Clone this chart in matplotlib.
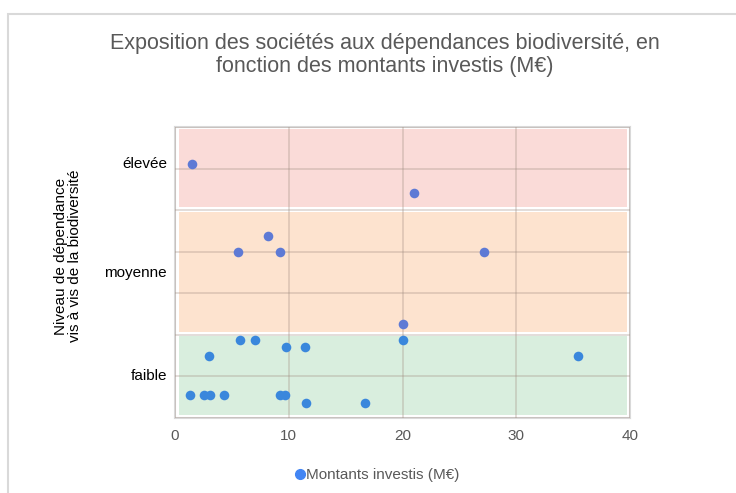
import matplotlib
matplotlib.use("Agg")
import matplotlib.pyplot as plt
from matplotlib.patches import Rectangle

plt.rcParams['font.family'] = ['Liberation Sans', 'DejaVu Sans']

# montants investis (M EUR) et niveau de dependance (echelle 0..3.5)
x_high = [1.5, 21.0]
y_high = [3.05, 2.71]
x_mid = [5.5, 8.2, 9.25, 27.2, 20.0]
y_mid = [2.0, 2.19, 2.0, 2.0, 1.13]
x_low = [5.74, 7.06, 9.75, 11.45, 20.0, 3.03, 35.4,
         1.3, 2.53, 3.05, 4.34, 9.25, 9.63, 11.53, 16.7]
y_low = [0.94, 0.94, 0.85, 0.85, 0.94, 0.75, 0.75,
         0.277, 0.277, 0.277, 0.277, 0.277, 0.277, 0.177, 0.177]

# bandes de fond : (bas, haut, couleur)
bands = [(0.035, 0.99, '#d9eede'),
         (1.035, 2.48, '#fde3cf'),
         (2.54, 3.47, '#fadbd8')]

level_labels = ['faible', 'moyenne', 'élevée']
level_pos = [0.5, 1.75, 3.05]

fig = plt.figure(figsize=(7.36, 4.93), dpi=100)
fig.patches.append(Rectangle((8 / 736, -0.1), 1.2, 1 - 14 / 493 + 0.1,
                             transform=fig.transFigure, fill=False,
                             edgecolor='#d9d9d9', linewidth=1.5))
ax = fig.add_axes([175 / 736, 1 - 418 / 493, 455 / 736, 291 / 493])

for lo, hi, c in bands:
    ax.add_patch(Rectangle((0.35, lo), 39.4, hi - lo, facecolor=c,
                           edgecolor='none', zorder=0))

ax.set_xlim(0, 40)
ax.set_ylim(0, 3.5)
ax.set_xticks([0, 10, 20, 30, 40])
ax.set_yticks([i * 0.5 for i in range(8)])
ax.set_yticklabels([])
ax.tick_params(length=0, labelsize=11, colors='#595959', pad=8)
ax.grid(True, color='#a08c80', alpha=0.35, linewidth=1.2, zorder=1)
ax.set_axisbelow(False)
for s in ax.spines.values():
    s.set_color('#d9d9d9')
    s.set_linewidth(1.5)

for lab, yp in zip(level_labels, level_pos):
    ax.text(-0.7, yp, lab, ha='right', va='center', fontsize=11,
            color='#000000', transform=ax.transData)

ax.scatter(x_high + x_mid, y_high + y_mid, s=48, color='#5e7ad5',
           zorder=3, linewidths=0)
ax.scatter(x_low, y_low, s=48, color='#3a87dc', zorder=3, linewidths=0)

fig.text(385 / 736, 1 - 55 / 493,
         'Exposition des sociétés aux dépendances biodiversité, en\n'
         'fonction des montants investis (M€)',
         ha='center', va='center', fontsize=15.5, color='#595959',
         linespacing=1.12)
fig.text(68 / 736, 1 - 256 / 493,
         'Niveau de dépendance\nvis à vis de la biodiversité',
         ha='center', va='center', rotation=90, fontsize=11,
         color='#000000', linespacing=1.05)

# legende
fig.lines.append(plt.Line2D([300 / 736], [1 - 474 / 493], marker='o',
                            markersize=7, color='#4285f4', linestyle='none',
                            transform=fig.transFigure))
fig.text(306 / 736, 1 - 475 / 493, 'Montants investis (M€)', ha='left',
         va='center', fontsize=11, color='#595959')

fig.savefig('out.png', dpi=100)
